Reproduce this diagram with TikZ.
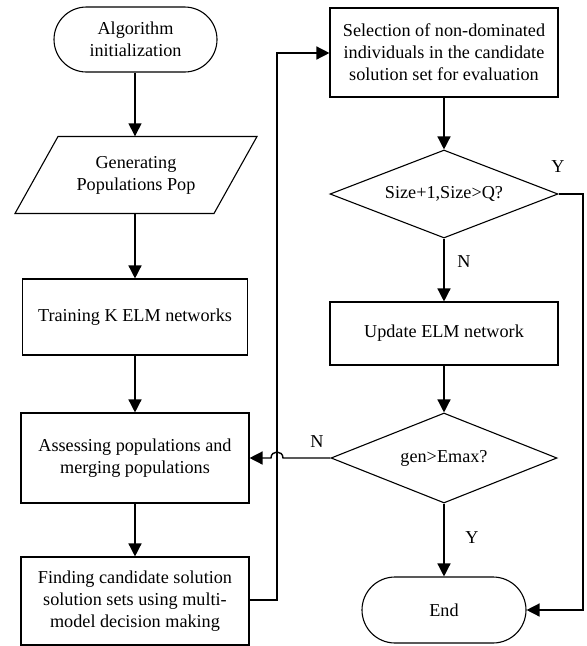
\documentclass[tikz,border=0pt]{standalone}
\usepackage{fontspec}
\setmainfont{Liberation Serif}
\usetikzlibrary{arrows.meta,shapes.geometric,shapes.misc}
\begin{document}
\begin{tikzpicture}[x=1pt,y=-1pt,
  every node/.style={font=\fontsize{18.2}{22}\selectfont, align=center, inner sep=0pt},
  box/.style={draw, line width=1.1pt, rectangle},
  term/.style={draw, line width=1.1pt, rounded rectangle},
  dec/.style={draw, line width=1.1pt, diamond, aspect=2.6},
  arr/.style={line width=1.4pt, -{Triangle[length=13pt,width=13pt]}},
  lab/.style={font=\fontsize{18.2}{22}\selectfont}]
\useasboundingbox (0,0) rectangle (587,646);
% left column
\node[term, minimum width=163pt, minimum height=65pt] (start) at (135.5,39.5) {Algorithm\\initialization};
\node[minimum width=200pt, minimum height=77pt] (pop) at (136,175) {Generating\\Populations Pop};
\draw[line width=1.1pt] (15,213.5) -- (58,136.5) -- (257,136.5) -- (214,213.5) -- cycle;
\node[box, minimum width=225pt, minimum height=76pt] (train) at (135,317) {Training K ELM networks};
\node[box, minimum width=228pt, minimum height=90pt] (assess) at (135,458) {Assessing populations and\\merging populations};
\node[box, minimum width=228pt, minimum height=88pt] (find) at (135,601) {Finding candidate solution\\solution sets using multi-\\model decision making};
% right column
\node[box, minimum width=228pt, minimum height=89pt] (sel) at (444,52.5) {Selection of non-dominated\\individuals in the candidate\\solution set for evaluation};
\node[dec, minimum width=228pt, minimum height=88pt] (d1) at (444,194) {Size+1,Size>Q?};
\node[box, minimum width=228pt, minimum height=63pt] (upd) at (444,333.5) {Update ELM network};
\node[dec, minimum width=226pt, minimum height=90pt] (d2) at (444,458) {gen>Emax?};
\node[term, minimum width=164pt, minimum height=66pt] (end) at (444,610) {End};
% labels
\node[lab] (y1) at (558,167) {Y};
\node[lab] (n1) at (464,262) {N};
\node[lab] (n2) at (317,442) {N};
\node[lab] (y2) at (472,538) {Y};
% connectors left
\draw[arr] (start.south -| 135,0) -- (pop.north -| 135,0);
\draw[arr] (135,213.5) -- (train.north);
\draw[arr] (train.south) -- (assess.north);
\draw[arr] (assess.south) -- (find.north);
\coordinate (c1) at (277,600);
\coordinate (c2) at (277,53);
\draw[arr] (find.east |- c1) -- (c1) -- (c2) -- (sel.west |- c2);
% connectors right
\draw[arr] (sel.south) -- (d1.north);
\draw[arr] (d1.south) -- (upd.north);
\draw[arr] (upd.south) -- (d2.north);
\draw[arr] (d2.south) -- (end.north);
\coordinate (r1) at (583,194);
\coordinate (r2) at (583,610);
\draw[arr] (d1.east) -- (r1) -- (r2) -- (end.east);
\coordinate (j1) at (283,458);
\coordinate (j2) at (271,458);
\draw[arr] (d2.west) -- (j1) .. controls (283,450) and (271,450) .. (j2) -- (assess.east);
\end{tikzpicture}
\end{document}
